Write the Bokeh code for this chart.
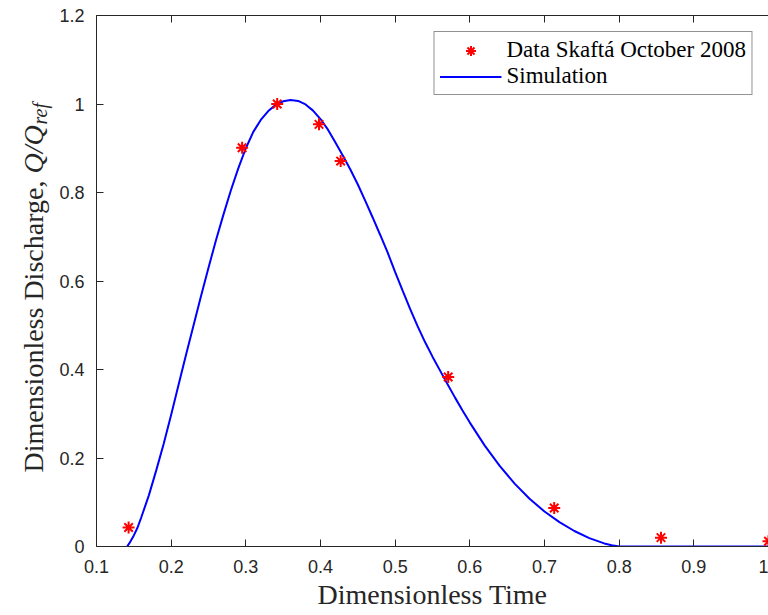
from math import pi
from bokeh.plotting import figure
from bokeh.layouts import row
from bokeh.core.properties import value
from bokeh.models import (LinearAxis, FixedTicker, Range1d, Legend, LegendItem,
                          ColumnDataSource)
from bokeh.embed import file_html
from bokeh.resources import INLINE

# ---------------- data ----------------
data_t = [0.143, 0.295, 0.342, 0.398, 0.427, 0.571, 0.713, 0.856, 1.000]
data_q = [0.043, 0.901, 1.000, 0.954, 0.871, 0.383, 0.087, 0.020, 0.012]

sim_t = [0.141, 0.145, 0.150, 0.155, 0.160, 0.170, 0.180, 0.190, 0.200, 0.210,
         0.220, 0.230, 0.240, 0.250, 0.260, 0.270, 0.280, 0.290, 0.300, 0.310,
         0.320, 0.330, 0.340, 0.350, 0.360, 0.370, 0.380, 0.390, 0.400, 0.410,
         0.420, 0.430, 0.440, 0.450, 0.460, 0.470, 0.480, 0.490, 0.500, 0.510,
         0.520, 0.530, 0.540, 0.550, 0.560, 0.570, 0.580, 0.590, 0.600, 0.620,
         0.640, 0.660, 0.680, 0.700, 0.720, 0.740, 0.760, 0.780, 0.790, 0.800,
         1.000]
sim_q = [0.000, 0.010, 0.025, 0.043, 0.066, 0.115, 0.172, 0.232, 0.298, 0.366,
         0.434, 0.500, 0.566, 0.630, 0.692, 0.750, 0.805, 0.855, 0.900, 0.937,
         0.964, 0.984, 0.998, 1.006, 1.009, 1.007, 0.999, 0.985, 0.966, 0.942,
         0.913, 0.883, 0.852, 0.818, 0.781, 0.743, 0.704, 0.664, 0.620, 0.578,
         0.537, 0.498, 0.462, 0.429, 0.398, 0.367, 0.337, 0.308, 0.280, 0.228,
         0.182, 0.142, 0.108, 0.079, 0.055, 0.035, 0.019, 0.007, 0.003, 0.000,
         0.000]

x_ticks = [0.1, 0.2, 0.3, 0.4, 0.5, 0.6, 0.7, 0.8, 0.9, 1.0]
x_tick_labels = ["0.1", "0.2", "0.3", "0.4", "0.5", "0.6", "0.7", "0.8", "0.9", "1"]
y_ticks = [0.0, 0.2, 0.4, 0.6, 0.8, 1.0, 1.2]
y_tick_labels = ["0", "0.2", "0.4", "0.6", "0.8", "1", "1.2"]

legend_labels = ["Data Skaft\u00e1 October 2008", "Simulation"]
x_title = "Dimensionless Time"
y_title_main = "Dimensionless Discharge,"
y_title_q = "Q/Q"
y_title_sub = "ref"

# ---------------- layout ----------------
W, H = 768, 615
TW = 56                              # width of the strip holding the y title
FL, FR, FT, FB = 94, 768, 15, 546    # frame edges in window px
X0, X1, Y0, Y1 = 0.1, 1.0, 0.0, 1.2

AX = "#262626"

p = figure(width=W - TW, height=H, x_range=Range1d(X0, X1), y_range=Range1d(Y0, Y1),
           output_backend="svg", toolbar_location=None,
           min_border_left=FL - TW, min_border_right=W - FR,
           min_border_top=FT, min_border_bottom=H - FB)
p.outline_line_color = None
p.xgrid.visible = False
p.ygrid.visible = False
p.background_fill_color = "white"
p.border_fill_color = "white"

def style_axis(ax, ticks, labels, show_labels=True):
    ax.ticker = FixedTicker(ticks=ticks, minor_ticks=[])
    ax.axis_line_color = AX
    ax.axis_line_width = 1
    ax.major_tick_line_color = AX
    ax.major_tick_in = 7
    ax.major_tick_out = 0
    ax.minor_tick_line_color = None
    ax.major_label_text_font = "Liberation Sans"
    if show_labels:
        ax.major_label_overrides = {t: l for t, l in zip(ticks, labels)}
        ax.major_label_text_color = AX
        ax.major_label_text_font_size = "18px"
    else:
        ax.major_label_text_color = None
        ax.major_label_text_font_size = "1px"
        ax.major_label_standoff = 0

xa = p.xaxis[0]
style_axis(xa, x_ticks, x_tick_labels)
xa.major_label_standoff = 13
xa.axis_label = x_title
xa.axis_label_text_font = "Liberation Serif"
xa.axis_label_text_font_style = "normal"
xa.axis_label_text_font_size = "28px"
xa.axis_label_text_color = AX
xa.axis_label_standoff = 3

ya = p.yaxis[0]
style_axis(ya, y_ticks, y_tick_labels)
ya.major_label_standoff = 12

top = LinearAxis()
style_axis(top, x_ticks, x_tick_labels, show_labels=False)
p.add_layout(top, "above")

# ---------------- glyphs ----------------
sim_src = ColumnDataSource(dict(t=sim_t, q=sim_q))
dat_src = ColumnDataSource(dict(t=data_t, q=data_q))

r_sim = p.line("t", "q", source=sim_src, line_color="#0000FF", line_width=2)
r_dat = p.scatter("t", "q", source=dat_src, marker="asterisk", size=12,
                  line_color="#FF0000", line_width=2)

legend = Legend(items=[LegendItem(label=legend_labels[0], renderers=[r_dat]),
                       LegendItem(label=legend_labels[1], renderers=[r_sim])],
                location="top_right")
legend.margin = 16
legend.padding = 5
legend.spacing = 0
legend.glyph_width = 62
legend.glyph_height = 25
legend.label_height = 25
legend.label_standoff = 5
legend.label_text_font = "Liberation Serif"
legend.label_text_font_size = "23px"
legend.label_text_color = "black"
legend.border_line_color = AX
legend.border_line_width = 1
legend.background_fill_color = "white"
legend.background_fill_alpha = 1
p.add_layout(legend)

# ---------------- y title strip: frame aligned with the main frame ----------------
# data y in this strip == window px measured from the bottom of the window
t = figure(width=TW, height=H, x_range=Range1d(0, TW), y_range=Range1d(H - FB, H - FT),
           output_backend="svg", toolbar_location=None,
           x_axis_location=None, y_axis_location=None,
           min_border_left=0, min_border_right=0,
           min_border_top=FT, min_border_bottom=H - FB)
t.outline_line_color = None
t.xgrid.visible = False
t.ygrid.visible = False
t.border_fill_color = "white"
t.background_fill_color = "white"

title_common = dict(angle=pi / 2, text_color=AX, text_font=value("Liberation Serif"),
                    text_align="left", text_baseline="alphabetic")
t.text(x=[33], y=[H - 472], text=[y_title_main], text_font_size="28px", **title_common)
t.text(x=[33], y=[H - 173], text=[y_title_q], text_font_style="italic",
       text_font_size="28px", **title_common)
t.text(x=[39], y=[H - 124], text=[y_title_sub], text_font_style="italic",
       text_font_size="20px", **title_common)

layout = row(t, p, spacing=0)
open("out.html", "w").write(file_html(layout, INLINE))
